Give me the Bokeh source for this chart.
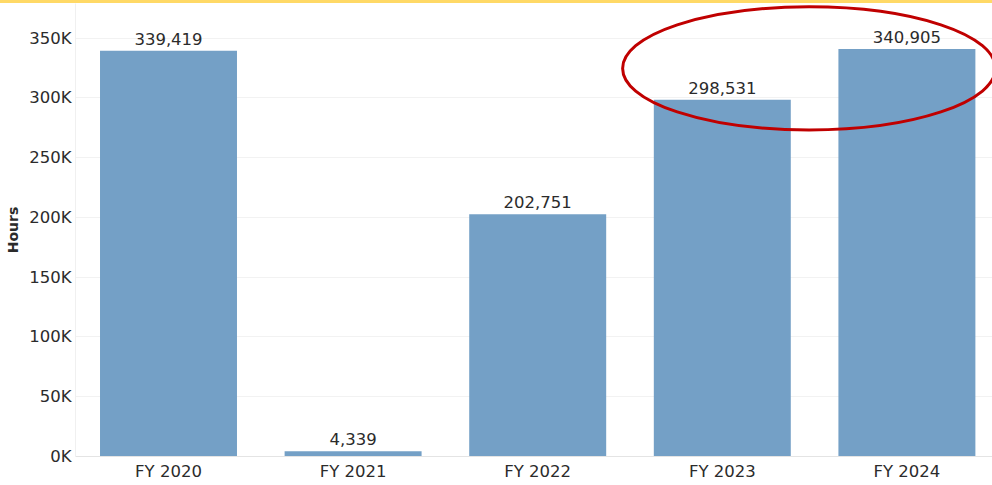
from bokeh.plotting import figure
from bokeh.models import Range1d, FixedTicker, ColumnDataSource, Spacer
from bokeh.layouts import column
from bokeh.core.properties import value
from bokeh.embed import file_html
from bokeh.resources import INLINE

# ---- data ----
years = ["FY 2020", "FY 2021", "FY 2022", "FY 2023", "FY 2024"]
hours = [339419, 4339, 202751, 298531, 340905]
y_ticks = [0, 50000, 100000, 150000, 200000, 250000, 300000, 350000]
y_tick_labels = ["0K", "50K", "100K", "150K", "200K", "250K", "300K", "350K"]

# highlight ellipse around the last two fiscal years (annotation)
highlight_idx = [3, 4]

FONT = "DejaVu Sans"
BAR_COLOR = "#74A0C6"
TEXT_COLOR = "#2b2b2b"

xs = list(range(len(years)))
src = ColumnDataSource(dict(x=xs, top=hours, label=[f"{h:,}" for h in hours]))

W, H = 992, 485
BAND = 3

p = figure(
    width=W, height=H - BAND,
    output_backend="svg", toolbar_location=None,
    x_range=Range1d(-0.5038, 4.4637),
    y_range=Range1d(0, 379000),
    min_border_left=75, min_border_right=0, min_border_top=0, min_border_bottom=29,
    background_fill_color="white", border_fill_color="white",
)
p.outline_line_color = None

p.vbar(x="x", top="top", width=0.742, source=src, fill_color=BAR_COLOR, line_color=None)
p.text(x="x", y="top", text="label", source=src,
       text_align="center", text_baseline="bottom", y_offset=-6,
       text_font=value(FONT), text_font_size="16.5px", text_color=TEXT_COLOR)

# highlight ellipse
cx = sum(highlight_idx) / len(highlight_idx) - 0.03
cy = (hours[3] + hours[4]) / 2 + 5000
p.ellipse(x=[cx], y=[cy], width=2.02, height=103000,
          fill_color=None, line_color="#C00000", line_width=3)

for ax in (p.xaxis, p.yaxis):
    ax.major_tick_line_color = None
    ax.minor_tick_line_color = None
    ax.major_tick_out = 0
    ax.major_tick_in = 0
    ax.minor_tick_out = 0
    ax.minor_tick_in = 0
    ax.major_label_text_font = FONT
    ax.major_label_text_font_size = "16.5px"
    ax.major_label_text_color = TEXT_COLOR

# x axis
p.xaxis.ticker = FixedTicker(ticks=xs)
p.xaxis.major_label_overrides = {i: y for i, y in enumerate(years)}
p.xaxis.axis_line_color = "#e4e4e4"
p.xaxis.major_label_standoff = 5
p.xaxis.axis_label = None
p.xaxis.axis_label_standoff = 0

# y axis
p.yaxis.ticker = FixedTicker(ticks=y_ticks)
p.yaxis.major_label_overrides = {t: l for t, l in zip(y_ticks, y_tick_labels)}
p.yaxis.axis_line_color = "#f0f0f0"
p.yaxis.major_label_standoff = 4
p.yaxis.axis_label = "Hours"
p.yaxis.axis_label_text_font = FONT
p.yaxis.axis_label_text_font_style = "bold"
p.yaxis.axis_label_text_font_size = "14px"
p.yaxis.axis_label_text_color = TEXT_COLOR
p.yaxis.axis_label_standoff = 5

p.xgrid.grid_line_color = None
p.ygrid.grid_line_color = "#f2f2f2"
p.ygrid.grid_line_width = 1

band = Spacer(width=W, height=BAND, styles={"background-color": "#FFD966"})
layout = column(band, p, spacing=0)

open("out.html", "w").write(file_html(layout, INLINE))
